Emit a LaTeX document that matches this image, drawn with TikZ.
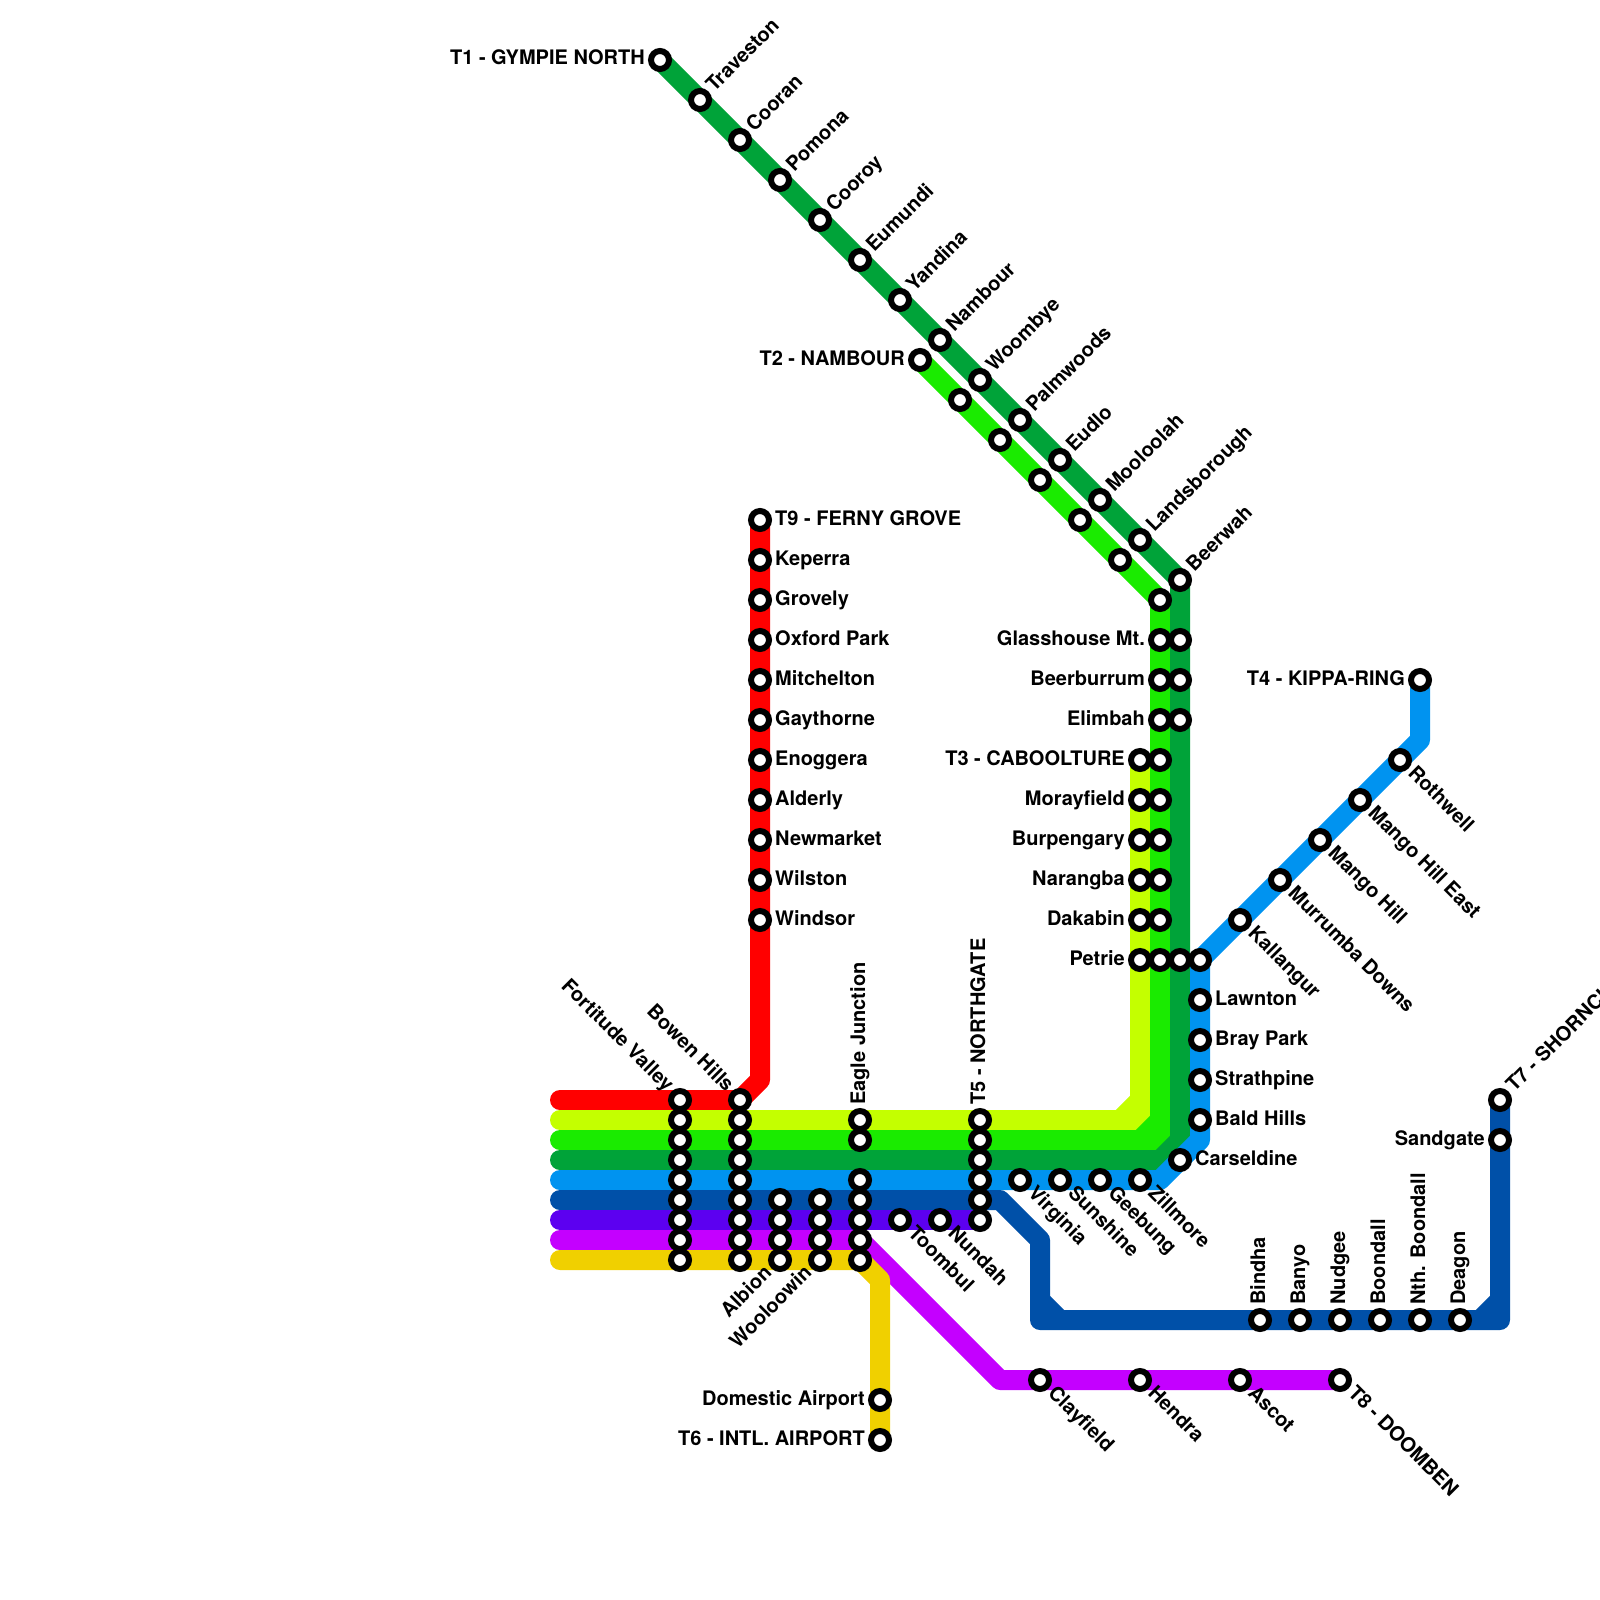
\documentclass[tikz,border=0pt]{standalone}
\usepackage{fontspec}
\setmainfont{TeX Gyre Heros}
\pgfdeclarelayer{fg}
\pgfsetlayers{main,fg}
\definecolor{cred}{RGB}{255,0,0}
\definecolor{clime}{RGB}{196,255,0}
\definecolor{cgreen}{RGB}{26,235,0}
\definecolor{cdkgreen}{RGB}{0,163,57}
\definecolor{cblue}{RGB}{0,147,240}
\definecolor{cnavy}{RGB}{0,80,168}
\definecolor{cpurple}{RGB}{92,0,240}
\definecolor{cmagenta}{RGB}{196,0,255}
\definecolor{cgold}{RGB}{240,208,0}
\tikzset{
  stn/.style={circle,draw=black,fill=white,line width=6pt,minimum size=18pt,inner sep=0pt,outer sep=0pt},
  lab/.style={font=\fontsize{20pt}{24pt}\selectfont\bfseries,inner sep=0pt,text=black},
  route/.style={line width=20pt,line join=round,line cap=round},
  chamfer/.style={line width=20pt}
}
% station without label
\newcommand{\sn}[3]{\node[stn] (#1) at (#2,#3) {};}
% label: station, angle, signed distance, anchor side, text
\newcommand{\lb}[5]{\node[lab,rotate=#2,anchor=base #4] (#1-t) at ([shift={({(#3)*cos(#2)+5*sin(#2)},{-(#3)*sin(#2)+5*cos(#2)})}]#1.center) {#5};}
\newcommand{\sR}[4]{\sn{#1}{#2}{#3}\lb{#1}{0}{15}{west}{#4}}
\newcommand{\sL}[4]{\sn{#1}{#2}{#3}\lb{#1}{0}{-15}{east}{#4}}
\newcommand{\sU}[4]{\sn{#1}{#2}{#3}\lb{#1}{45}{15}{west}{#4}}
\newcommand{\sD}[4]{\sn{#1}{#2}{#3}\lb{#1}{-45}{15}{west}{#4}}
\newcommand{\sV}[4]{\sn{#1}{#2}{#3}\lb{#1}{90}{15}{west}{#4}}
\newcommand{\sA}[4]{\sn{#1}{#2}{#3}\lb{#1}{45}{-15}{east}{#4}}
\newcommand{\sB}[4]{\sn{#1}{#2}{#3}\lb{#1}{-45}{-15}{east}{#4}}
\begin{document}
\begin{tikzpicture}[x=1pt,y=-1pt]
\fill[white] (0,0) rectangle (1600,1600);
\useasboundingbox (0,0) rectangle (1600,1600);
\begin{pgfonlayer}{fg}
% T1 diagonal
\sL{tone}{660}{60}{T1 - GYMPIE NORTH}
\sU{trav}{700}{100}{Traveston}
\sU{coor}{740}{140}{Cooran}
\sU{pomo}{780}{180}{Pomona}
\sU{croy}{820}{220}{Cooroy}
\sU{eumu}{860}{260}{Eumundi}
\sU{yand}{900}{300}{Yandina}
\sU{namb}{940}{340}{Nambour}
\sU{woom}{980}{380}{Woombye}
\sU{palm}{1020}{420}{Palmwoods}
\sU{eudl}{1060}{460}{Eudlo}
\sU{mool}{1100}{500}{Mooloolah}
\sU{land}{1140}{540}{Landsborough}
\sU{beer}{1180}{580}{Beerwah}
% T2 diagonal
\sL{ttwo}{920}{360}{T2 - NAMBOUR}
\sn{gd1}{960}{400}\sn{gd2}{1000}{440}\sn{gd3}{1040}{480}\sn{gd4}{1080}{520}\sn{gd5}{1120}{560}\sn{gd6}{1160}{600}
% vertical pairs
\sL{glas}{1160}{640}{Glasshouse Mt.}\sn{dg1}{1180}{640}
\sL{bbur}{1160}{680}{Beerburrum}\sn{dg2}{1180}{680}
\sL{elim}{1160}{720}{Elimbah}\sn{dg3}{1180}{720}
\sL{tthr}{1140}{760}{T3 - CABOOLTURE}\sn{gv1}{1160}{760}
\sL{mora}{1140}{800}{Morayfield}\sn{gv2}{1160}{800}
\sL{burp}{1140}{840}{Burpengary}\sn{gv3}{1160}{840}
\sL{nara}{1140}{880}{Narangba}\sn{gv4}{1160}{880}
\sL{daka}{1140}{920}{Dakabin}\sn{gv5}{1160}{920}
\sL{petr}{1140}{960}{Petrie}\sn{gv6}{1160}{960}\sn{dg4}{1180}{960}\sn{bl1}{1200}{960}
% T4 branch
\sL{tfou}{1420}{680}{T4 - KIPPA-RING}
\sD{roth}{1400}{760}{Rothwell}
\sD{mhe}{1360}{800}{Mango Hill East}
\sD{mh}{1320}{840}{Mango Hill}
\sD{murr}{1280}{880}{Murrumba Downs}
\sD{kall}{1240}{920}{Kallangur}
\sR{lawn}{1200}{1000}{Lawnton}
\sR{bray}{1200}{1040}{Bray Park}
\sR{stra}{1200}{1080}{Strathpine}
\sR{bald}{1200}{1120}{Bald Hills}
\sR{cars}{1180}{1160}{Carseldine}
\sD{zill}{1140}{1180}{Zillmore}
\sD{geeb}{1100}{1180}{Geebung}
\sD{suns}{1060}{1180}{Sunshine}
\sD{virg}{1020}{1180}{Virginia}
% T9
\sR{tnin}{760}{520}{T9 - FERNY GROVE}
\sR{kepe}{760}{560}{Keperra}
\sR{grov}{760}{600}{Grovely}
\sR{oxfo}{760}{640}{Oxford Park}
\sR{mitc}{760}{680}{Mitchelton}
\sR{gayt}{760}{720}{Gaythorne}
\sR{enog}{760}{760}{Enoggera}
\sR{alde}{760}{800}{Alderly}
\sR{newm}{760}{840}{Newmarket}
\sR{wils}{760}{880}{Wilston}
\sR{wind}{760}{920}{Windsor}
% Fortitude Valley
\sB{fvr}{680}{1100}{Fortitude Valley}
\sn{fvl}{680}{1120}\sn{fvg}{680}{1140}\sn{fvd}{680}{1160}\sn{fvb}{680}{1180}\sn{fvn}{680}{1200}\sn{fvp}{680}{1220}\sn{fvm}{680}{1240}\sn{fvy}{680}{1260}
% Bowen Hills
\sB{bhr}{740}{1100}{Bowen Hills}
\sn{bhl}{740}{1120}\sn{bhg}{740}{1140}\sn{bhd}{740}{1160}\sn{bhb}{740}{1180}\sn{bhn}{740}{1200}\sn{bhp}{740}{1220}\sn{bhm}{740}{1240}\sn{bhy}{740}{1260}
% Albion, Wooloowin
\sn{aln}{780}{1200}\sn{alp}{780}{1220}\sn{alm}{780}{1240}\sA{aly}{780}{1260}{Albion}
\sn{won}{820}{1200}\sn{wop}{820}{1220}\sn{wom}{820}{1240}\sA{woy}{820}{1260}{Wooloowin}
% Eagle Junction
\sV{ejl}{860}{1120}{Eagle Junction}
\sn{ejg}{860}{1140}\sn{ejb}{860}{1180}\sn{ejn}{860}{1200}\sn{ejp}{860}{1220}\sn{ejm}{860}{1240}\sn{ejy}{860}{1260}
% Northgate
\sV{ngl}{980}{1120}{T5 - NORTHGATE}
\sn{ngg}{980}{1140}\sn{ngd}{980}{1160}\sn{ngb}{980}{1180}\sn{ngn}{980}{1200}\sn{ngp}{980}{1220}
\sD{toom}{900}{1220}{Toombul}
\sD{nund}{940}{1220}{Nundah}
% T6
\sL{dome}{880}{1400}{Domestic Airport}
\sL{tsix}{880}{1440}{T6 - INTL. AIRPORT}
% T7
\sU{tsev}{1500}{1100}{T7 - SHORNCLIFFE}
\sL{sand}{1500}{1140}{Sandgate}
\sV{bind}{1260}{1320}{Bindha}
\sV{bany}{1300}{1320}{Banyo}
\sV{nudg}{1340}{1320}{Nudgee}
\sV{boon}{1380}{1320}{Boondall}
\sV{nthb}{1420}{1320}{Nth. Boondall}
\sV{deag}{1460}{1320}{Deagon}
% T8
\sD{clay}{1040}{1380}{Clayfield}
\sD{hend}{1140}{1380}{Hendra}
\sD{asco}{1240}{1380}{Ascot}
\sD{teig}{1340}{1380}{T8 - DOOMBEN}
\end{pgfonlayer}
% route ends and bends
\coordinate (rs) at (560,1100); \coordinate (rb) at (760,1080);
\coordinate (ls) at (560,1120); \coordinate (la) at (1120,1120); \coordinate (lb) at (1140,1100); \coordinate (lc) at (1140,1120);
\coordinate (gs) at (560,1140); \coordinate (ga) at (1140,1140); \coordinate (gb) at (1160,1120); \coordinate (gc) at (1160,1140);
\coordinate (ds) at (560,1160); \coordinate (da) at (1160,1160); \coordinate (db) at (1180,1140); \coordinate (dc) at (1180,1160);
\coordinate (bs) at (560,1180); \coordinate (ba) at (1160,1180); \coordinate (bb) at (1200,1140); \coordinate (bc) at (1420,740);
\coordinate (ns) at (560,1200); \coordinate (na) at (1000,1200); \coordinate (nb) at (1040,1240); \coordinate (nc) at (1040,1320); \coordinate (nd) at (1500,1320);
\coordinate (ne) at (1040,1300); \coordinate (nf) at (1060,1320); \coordinate (ng) at (1480,1320); \coordinate (nh) at (1500,1300);
\coordinate (ps) at (560,1220);
\coordinate (ms) at (560,1240); \coordinate (ma) at (860,1240); \coordinate (mb) at (1000,1380);
\coordinate (ys) at (560,1260); \coordinate (ya) at (880,1280);
% routes
\draw[route,cred] (rs) -- (bhr.center) -- (rb) -- (tnin.center);
\draw[route,clime] (ls) -- (lc) -- (tthr.center);
\draw[chamfer,clime] (la) -- (lb);
\draw[route,cgreen] (gs) -- (gc) -- (gd6.center) -- (ttwo.center);
\draw[chamfer,cgreen] (ga) -- (gb);
\draw[route,cdkgreen] (ds) -- (dc) -- (beer.center) -- (tone.center);
\draw[chamfer,cdkgreen] (da) -- (db);
\draw[route,cblue] (bs) -- (ba) -- (bb) -- (bl1.center) -- (bc) -- (tfou.center);
\draw[route,cnavy] (ns) -- (na) -- (nb) -- (nc) -- (nd) -- (tsev.center);
\draw[chamfer,cnavy] (ne) -- (nf);
\draw[chamfer,cnavy] (ng) -- (nh);
\draw[route,cpurple] (ps) -- (ngp.center);
\draw[route,cmagenta] (ms) -- (ma) -- (mb) -- (teig.center);
\draw[route,cgold] (ys) -- (ejy.center) -- (ya) -- (tsix.center);
\end{tikzpicture}
\end{document}
